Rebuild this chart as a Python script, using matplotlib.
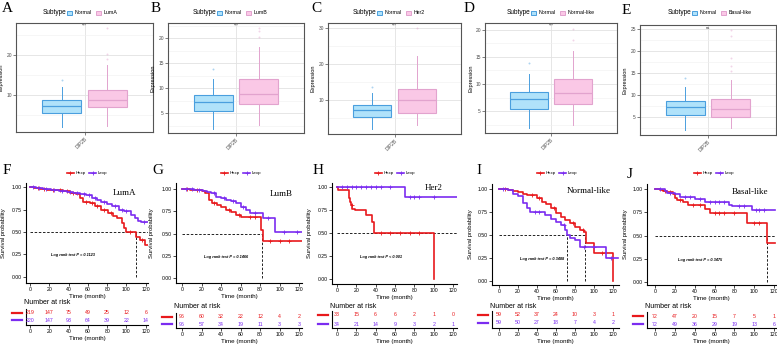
import numpy as np
import matplotlib
matplotlib.use("Agg")
import matplotlib.pyplot as plt
import matplotlib.ticker as mtick
from matplotlib.patches import Rectangle
from matplotlib.lines import Line2D

plt.rcParams["font.family"] = "Liberation Sans"

W, H = 777, 348

# ---------------- data: DIP2B expression boxplots ----------------
subtypes = ["LumA", "LumB", "Her2", "Normal-like", "Basal-like"]
signif = ["***", "***", "***", "***", "ns"]

normal_q1, normal_med, normal_q3 = 5.4, 7.2, 8.6
normal_lo, normal_hi = 1.9, 11.9
normal_out = [13.8]

sub_q1 = [6.9, 6.8, 6.5, 6.35, 5.0]
sub_med = [8.75, 8.9, 10.0, 8.4, 6.75]
sub_q3 = [11.2, 11.8, 13.2, 10.95, 9.1]
sub_lo = [2.1, 2.7, 3.2, 2.5, 2.3]
sub_hi = [17.3, 18.3, 22.3, 16.0, 13.4]
sub_out = [[19.0, 20.1, 26.6], [20.3, 21.5, 22.0], [30.2], [18.1, 20.1],
           [15.5, 16.5, 18.5, 23.5, 24.9]]

box_ylim = [(0.7, 27.9), (1.0, 23.0), (0.6, 31.5), (1.0, 21.2), (0.8, 26.0)]
box_major = [10, 5, 10, 5, 5]

# ---------------- data: Kaplan-Meier curves ----------------
lumA_hexp_t = [0, 4, 10, 18, 26, 34, 42, 48, 52, 55, 62, 67, 74, 81, 86, 90, 95, 98, 100, 110, 114, 119, 123]
lumA_hexp_s = [1.0, 0.995, 0.985, 0.975, 0.965, 0.955, 0.94, 0.92, 0.88, 0.84, 0.82, 0.79, 0.75, 0.71, 0.68, 0.66, 0.60, 0.545, 0.50, 0.44, 0.41, 0.36, 0.36]
lumA_lexp_t = [0, 6, 14, 22, 30, 38, 45, 52, 58, 64, 70, 74, 80, 85, 92, 98, 102, 105, 109, 112, 115, 123]
lumA_lexp_s = [1.0, 0.99, 0.98, 0.97, 0.96, 0.95, 0.94, 0.93, 0.91, 0.88, 0.86, 0.83, 0.81, 0.79, 0.75, 0.74, 0.73, 0.69, 0.66, 0.62, 0.61, 0.61]

lumB_hexp_t = [0, 8, 20, 24, 28, 31, 36, 40, 45, 50, 55, 60, 65, 81, 83, 123]
lumB_hexp_s = [1.0, 0.99, 0.98, 0.95, 0.88, 0.84, 0.82, 0.80, 0.76, 0.745, 0.71, 0.69, 0.68, 0.54, 0.42, 0.42]
lumB_lexp_t = [0, 12, 22, 26, 30, 35, 40, 45, 50, 55, 60, 66, 70, 83, 95, 123]
lumB_lexp_s = [1.0, 0.99, 0.98, 0.97, 0.95, 0.91, 0.90, 0.88, 0.86, 0.84, 0.80, 0.76, 0.73, 0.67, 0.52, 0.52]

her2_hexp_t = [0, 1, 12, 13, 14, 16, 19, 30, 36, 38, 100]
her2_hexp_s = [1.0, 0.97, 0.88, 0.84, 0.80, 0.76, 0.75, 0.70, 0.62, 0.50, 0.0]
her2_lexp_t = [0, 70, 125]
her2_lexp_s = [1.0, 0.89, 0.89]

nl_hexp_t = [0, 10, 15, 20, 25, 30, 40, 45, 50, 55, 60, 65, 70, 75, 80, 85, 90, 92, 100, 120]
nl_hexp_s = [1.0, 0.99, 0.98, 0.97, 0.95, 0.935, 0.90, 0.86, 0.84, 0.79, 0.74, 0.70, 0.665, 0.635, 0.585, 0.555, 0.53, 0.42, 0.31, 0.0]
nl_lexp_t = [0, 10, 15, 20, 25, 30, 33, 48, 55, 60, 65, 70, 72, 75, 80, 85, 113, 125]
nl_lexp_s = [1.0, 0.99, 0.95, 0.92, 0.845, 0.79, 0.75, 0.72, 0.68, 0.645, 0.61, 0.555, 0.50, 0.465, 0.45, 0.375, 0.25, 0.25]

bl_hexp_t = [0, 5, 8, 12, 18, 20, 22, 28, 33, 50, 55, 93, 113, 121]
bl_hexp_s = [1.0, 0.99, 0.98, 0.97, 0.95, 0.90, 0.88, 0.857, 0.83, 0.78, 0.74, 0.63, 0.42, 0.42]
bl_lexp_t = [0, 10, 12, 20, 25, 40, 50, 75, 78, 98, 121]
bl_lexp_s = [1.0, 0.98, 0.96, 0.946, 0.915, 0.89, 0.865, 0.83, 0.82, 0.77, 0.77]

# censoring times
lumA_hexp_cens = [8, 15, 24, 31, 38, 45, 58, 64, 70, 77, 84, 104, 116]
lumA_lexp_cens = [3, 9, 17, 25, 33, 41, 49, 56, 61, 67, 77, 88, 95, 100, 118]
lumB_hexp_cens = [5, 15, 33, 48, 58, 70, 75, 90, 100, 110]
lumB_lexp_cens = [4, 10, 17, 33, 43, 52, 63, 75, 88, 105, 118]
her2_hexp_cens = [15, 45, 55, 65, 75, 85]
her2_lexp_cens = [5, 10, 15, 20, 25, 30, 35, 40, 45, 55, 75, 80, 85, 100]
nl_hexp_cens = [6, 35, 42, 58, 78, 88, 108]
nl_lexp_cens = [4, 38, 42, 68, 90, 100, 118]
bl_hexp_cens = [10, 15, 25, 38, 45, 60, 65, 70, 80, 100, 105]
bl_lexp_cens = [5, 15, 30, 35, 45, 55, 60, 65, 70, 85, 90, 102, 105, 110]

km_hexp = [(lumA_hexp_t, lumA_hexp_s, lumA_hexp_cens), (lumB_hexp_t, lumB_hexp_s, lumB_hexp_cens),
           (her2_hexp_t, her2_hexp_s, her2_hexp_cens), (nl_hexp_t, nl_hexp_s, nl_hexp_cens),
           (bl_hexp_t, bl_hexp_s, bl_hexp_cens)]
km_lexp = [(lumA_lexp_t, lumA_lexp_s, lumA_lexp_cens), (lumB_lexp_t, lumB_lexp_s, lumB_lexp_cens),
           (her2_lexp_t, her2_lexp_s, her2_lexp_cens), (nl_lexp_t, nl_lexp_s, nl_lexp_cens),
           (bl_lexp_t, bl_lexp_s, bl_lexp_cens)]

pvals = ["P = 0.1123", "P = 0.1466", "P < 0.001", "P = 0.3488", "P = 0.3475"]
median_times = [[110], [82], [], [72, 91], [113]]
median_hline_end = [None, 82, None, 91, None]   # None -> to the right edge

risk_times = [0, 20, 40, 60, 80, 100, 120]
risk_hexp = [[219, 147, 75, 49, 25, 12, 6], [96, 60, 32, 22, 12, 4, 2], [33, 15, 6, 6, 2, 1, 0],
             [59, 52, 37, 24, 10, 3, 1], [72, 47, 20, 15, 7, 5, 1]]
risk_lexp = [[220, 147, 93, 64, 39, 22, 14], [96, 57, 34, 19, 11, 3, 3], [34, 21, 14, 9, 3, 2, 1],
             [59, 50, 27, 18, 7, 4, 2], [72, 49, 36, 29, 19, 13, 6]]

# ---------------- layout (pixels) ----------------
box_axes = [(16, 23, 153, 132), (168, 23, 304, 133), (328, 23, 461, 134), (485, 23, 617, 133), (640, 25, 776, 135)]
box_ylab_x = [4, 155, 315, 473, 628]
box_leg_x = [43, 193, 353, 507, 668]
top_letters = [("A", 7, 9), ("B", 156, 9), ("C", 316, 9), ("D", 469, 9), ("E", 626, 10)]

km_axes = [(26, 183, 148, 283), (176, 183, 302, 283), (332, 183, 457, 284), (492, 184, 619, 285), (647, 184, 776, 285)]
km_x0px = [30, 182, 337, 499, 655]
km_x120px = [145.7, 299, 453, 613, 774]
km_y1px = [187.3, 189, 187, 189, 189]
km_y0px = [276.7, 278, 279, 281.3, 282]
km_ylab_x = [6, 154, 312, 473, 628]
km_leg_x = [87, 241, 395, 557, 714]
bot_letters = [("F", 7, 171), ("G", 158, 171), ("H", 318, 171), ("I", 479, 171), ("J", 630, 174)]
lab_pos = [(98, 0.94), (102, 0.94), (100, 0.99), (94, 0.98), (96, 0.97)]

tab_rows = [(313, 320), (317, 324), (315, 324), (315, 323), (316, 324)]
tab_bottom = [325, 328, 328, 328, 328]
tab_title_y = [302, 306, 306, 306, 306]

RED = "#E8191C"
PURPLE = "#7B2CF0"
BLUE_E, BLUE_F = "#4A9FDE", "#B0E2FA"
PINK_E, PINK_F = "#E2A3CE", "#FAC8E6"
GRAY = "#4D4D4D"


def px_rect(l, t, r, b):
    return [l / W, 1 - b / H, (r - l) / W, (b - t) / H]


fig = plt.figure(figsize=(W / 100, H / 100), dpi=100)

# ---------------- top row: boxplots ----------------
for i in range(5):
    l, t, r, b = box_axes[i]
    ax = fig.add_axes(px_rect(l, t, r, b))
    stats = [dict(med=normal_med, q1=normal_q1, q3=normal_q3, whislo=normal_lo, whishi=normal_hi, fliers=normal_out),
             dict(med=sub_med[i], q1=sub_q1[i], q3=sub_q3[i], whislo=sub_lo[i], whishi=sub_hi[i], fliers=sub_out[i])]
    bp = ax.bxp(stats, positions=[0.8, 1.2], widths=0.34, showcaps=False, patch_artist=True,
                manage_ticks=False)
    for k, (ec, fc) in enumerate([(BLUE_E, BLUE_F), (PINK_E, PINK_F)]):
        bp["boxes"][k].set(facecolor=fc, edgecolor=ec, linewidth=0.8)
        bp["medians"][k].set(color=ec, linewidth=0.9)
        for w in bp["whiskers"][2 * k:2 * k + 2]:
            w.set(color=ec, linewidth=0.7)
        bp["fliers"][k].set(marker="o", markersize=1.4, markerfacecolor=ec, markeredgecolor="none", alpha=0.45)
    ax.set_xlim(0.4, 1.6)
    ax.set_ylim(*box_ylim[i])
    ax.set_xticks([1])
    ax.set_xticklabels(["DIP2B"], rotation=45, ha="right", va="top", fontsize=4.2, color=GRAY,
                       rotation_mode="anchor")
    ax.yaxis.set_major_locator(mtick.MultipleLocator(box_major[i]))
    ax.yaxis.set_minor_locator(mtick.MultipleLocator(box_major[i] / 2))
    ax.grid(which="major", color="#E2E2E2", lw=0.6)
    ax.grid(which="minor", axis="y", color="#F0F0F0", lw=0.4)
    ax.set_axisbelow(True)
    ax.tick_params(axis="both", which="major", labelsize=3.5, colors=GRAY, length=2, width=0.5, pad=1)
    ax.tick_params(axis="y", which="minor", length=0)
    for sp in ax.spines.values():
        sp.set_color("#555555")
        sp.set_linewidth(0.8)
    ax.set_ylabel("Expression", fontsize=4, color="black")
    ax.yaxis.set_label_coords((box_ylab_x[i] - l) / (r - l), 0.5)
    ax.text(1, 0.995, signif[i], transform=ax.get_xaxis_transform(), ha="center", va="top",
            fontsize=3, color="#333333")
    # legend on top
    fig.text(box_leg_x[i] / W, 1 - 13 / H, "Subtype", fontsize=4.7, va="center", ha="left")
    handles = [Rectangle((0, 0), 1, 1, facecolor=BLUE_F, edgecolor=BLUE_E, lw=0.7),
               Rectangle((0, 0), 1, 1, facecolor=PINK_F, edgecolor=PINK_E, lw=0.7)]
    fig.legend(handles, ["Normal", subtypes[i]], loc="center left",
               bbox_to_anchor=((box_leg_x[i] + 24) / W, 1 - 13 / H), ncol=2, frameon=False,
               fontsize=3.8, handlelength=1.0, handleheight=0.8, columnspacing=0.8,
               handletextpad=0.4, borderpad=0, borderaxespad=0)

for txt, x, y in top_letters + bot_letters:
    fig.text(x / W, 1 - y / H, txt, family="Liberation Serif", fontsize=11, ha="center", va="center")


def step_value(t, s, c):
    idx = np.searchsorted(np.asarray(t), c, side="right") - 1
    return np.asarray(s)[idx]


# ---------------- bottom row: KM curves + risk tables ----------------
for i in range(5):
    l, t, r, b = km_axes[i]
    ppx = (km_x120px[i] - km_x0px[i]) / 120
    xlim = ((l - km_x0px[i]) / ppx, (r - km_x0px[i]) / ppx)
    ppy = km_y0px[i] - km_y1px[i]
    ylim = ((km_y0px[i] - b) / ppy, (km_y0px[i] - t) / ppy)

    ax = fig.add_axes(px_rect(l, t, r, b))
    for (tt, ss, cc), col in [(km_hexp[i], RED), (km_lexp[i], PURPLE)]:
        ax.step(tt, ss, where="post", color=col, lw=1.2, zorder=3)
        ax.plot(cc, step_value(tt, ss, cc), ls="none", marker="+", markersize=2.5,
                markeredgewidth=0.6, color=col, zorder=3)
    hend = median_hline_end[i] if median_hline_end[i] is not None else xlim[1]
    ax.plot([0, hend], [0.5, 0.5], ls=(0, (3, 2)), color="black", lw=0.6, zorder=2)
    for m in median_times[i]:
        ax.plot([m, m], [0, 0.5], ls=(0, (3, 2)), color="black", lw=0.6, zorder=2)
    ax.set_xlim(*xlim)
    ax.set_ylim(*ylim)
    ax.set_xticks(risk_times)
    ax.set_yticks([0, 0.25, 0.5, 0.75, 1.0])
    ax.yaxis.set_major_formatter(mtick.FormatStrFormatter("%.2f"))
    ax.tick_params(labelsize=3.7, length=2, width=0.5, pad=1, colors="black")
    for sp in ["top", "right"]:
        ax.spines[sp].set_visible(False)
    for sp in ["left", "bottom"]:
        ax.spines[sp].set_linewidth(0.8)
    ax.set_xlabel("Time (month)", fontsize=4.5, labelpad=1)
    ax.set_ylabel("Survival probability", fontsize=4.2)
    ax.yaxis.set_label_coords((km_ylab_x[i] - l) / (r - l), 0.5)
    ax.text(45, 0.24, "Log rank test " + pvals[i], fontsize=2.8, fontweight="bold", style="italic",
            ha="center", va="center")
    ax.text(lab_pos[i][0], lab_pos[i][1], subtypes[i], family="Liberation Serif", fontsize=6.5,
            ha="center", va="center")
    handles = [Line2D([], [], color=RED, lw=1.2, marker="+", markersize=2.5, markeredgewidth=0.6),
               Line2D([], [], color=PURPLE, lw=1.2, marker="+", markersize=2.5, markeredgewidth=0.6)]
    fig.legend(handles, ["Hexp", "Lexp"], loc="center", bbox_to_anchor=(km_leg_x[i] / W, 1 - 173 / H),
               ncol=2, frameon=False, fontsize=3.2, handlelength=1.6, columnspacing=0.8,
               handletextpad=0.4, borderpad=0, borderaxespad=0)

    # risk table
    r1, r2 = tab_rows[i]
    tb = tab_bottom[i]
    tt_top = r1 - 4
    u = r2 - r1
    tax = fig.add_axes(px_rect(l, tt_top, r, tb))
    tax.set_xlim(*xlim)
    tax.set_ylim(1 - (tb - r2) / u, 2 + (r1 - tt_top) / u)
    for j, tm in enumerate(risk_times):
        tax.text(tm, 2, str(risk_hexp[i][j]), color=RED, fontsize=3.8, ha="center", va="center")
        tax.text(tm, 1, str(risk_lexp[i][j]), color=PURPLE, fontsize=3.8, ha="center", va="center")
    tax.set_xticks(risk_times)
    tax.set_yticks([])
    tax.tick_params(labelsize=3.7, length=2, width=0.5, pad=1)
    for sp in ["top", "right"]:
        tax.spines[sp].set_visible(False)
    for sp in ["left", "bottom"]:
        tax.spines[sp].set_linewidth(0.8)
    tax.set_xlabel("Time (month)", fontsize=4.5, labelpad=1)
    fig.text((l - 2) / W, 1 - tab_title_y[i] / H, "Number at risk", fontsize=5, ha="left", va="center")
    for yy, col in [(r1, RED), (r2, PURPLE)]:
        fig.add_artist(Line2D([(l - 14) / W, (l - 4) / W], [1 - yy / H, 1 - yy / H], color=col, lw=1.6))

fig.savefig("out.png", dpi=100)
